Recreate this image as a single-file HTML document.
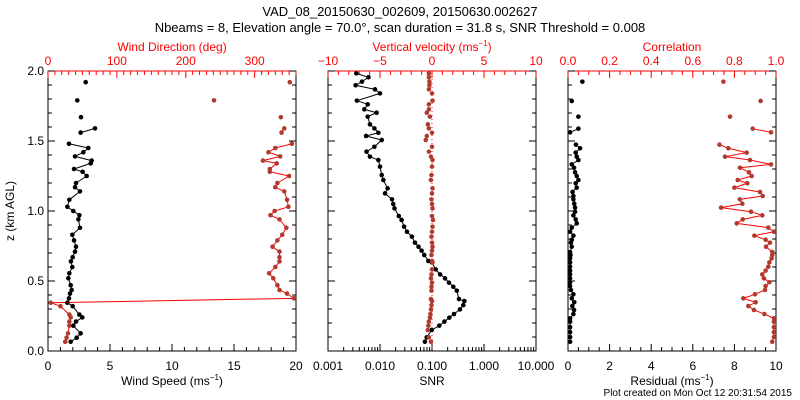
<!DOCTYPE html>
<html><head><meta charset="utf-8"><style>
html,body{margin:0;padding:0;background:#fff;}
svg{display:block;font-family:"Liberation Sans",sans-serif;}
</style></head><body>
<svg id="c" width="800" height="400" viewBox="0 0 800 400">
<text x="400" y="16" text-anchor="middle" font-size="13">VAD_08_20150630_002609, 20150630.002627</text>
<text x="400" y="32" text-anchor="middle" font-size="13">Nbeams = 8, Elevation angle = 70.0°, scan duration = 31.8 s, SNR Threshold = 0.008</text>
<text x="0" y="0" transform="translate(14,211) rotate(-90)" text-anchor="middle" font-size="12">z (km AGL)</text>
<text x="792" y="396" text-anchor="end" font-size="10">Plot created on Mon Oct 12 20:31:54 2015</text>
<g id="g"></g>
</svg>
<script>
// Panel 1 data
const h1 = [0.066,0.095,0.126,0.181,0.21,0.24,0.26,0.32,0.345,0.376,0.41,0.436,0.47,0.52,0.555,0.6,0.64,0.67,0.71,0.745,0.79,0.83,0.88,0.94,0.97,1.0,1.03,1.08,1.14,1.17,1.2,1.25,1.28,1.3,1.34,1.36,1.39,1.42,1.45,1.48,1.56,1.59,1.67,1.79,1.92];
const windSpeed = [1.83,2.31,2.63,2.04,2.26,2.77,2.53,1.99,1.56,1.69,1.77,1.91,1.83,1.64,1.72,1.96,1.85,1.99,2.18,2.26,2.1,1.96,2.58,2.45,2.53,2.04,1.56,1.72,2.58,2.18,2.26,3.12,2.79,2.1,3.44,3.52,2.18,2.85,3.25,1.69,2.63,3.79,2.66,2.36,3.04];
const windDir = [25,27,29,31,31,33,31,18,4,357,347,336,333,327,321,330,336,336,336,326,333,340,346,336,323,329,349,347,343,330,333,350,322,322,332,312,337,320,330,354,339,343,338,241,351];
// Panel 2 data
const h2 = [0.066,0.097,0.15,0.181,0.21,0.238,0.264,0.297,0.328,0.357,0.371,0.431,0.459,0.488,0.519,0.547,0.583,0.633,0.643,0.686,0.717,0.745,0.774,0.817,0.852,0.888,0.936,0.964,1.019,1.05,1.083,1.126,1.162,1.221,1.257,1.317,1.364,1.388,1.424,1.459,1.507,1.536,1.559,1.59,1.619,1.674,1.702,1.726,1.762,1.788,1.84,1.869,1.898,1.924,1.955,1.983];
const snr = [0.073,0.079,0.099,0.138,0.173,0.215,0.265,0.345,0.40,0.42,0.33,0.30,0.257,0.212,0.178,0.143,0.118,0.099,0.085,0.071,0.063,0.055,0.047,0.041,0.033,0.029,0.026,0.023,0.019,0.018,0.017,0.0125,0.014,0.0116,0.0108,0.010,0.0093,0.0064,0.0055,0.0078,0.0108,0.0054,0.0093,0.0078,0.0064,0.0058,0.0086,0.005,0.0058,0.0036,0.010,0.008,0.0034,0.0045,0.006,0.0035];
const vvel = [-0.1,-0.3,-0.4,-0.35,-0.3,-0.2,-0.15,-0.1,-0.05,0,-0.1,-0.05,-0.05,0,-0.1,-0.05,0,0.05,0,-0.05,0,0.05,0,-0.05,0,0.05,0.1,0,0.05,0,-0.05,0,0.05,-0.1,-0.05,0,0.05,-0.1,-0.3,0,-0.6,-0.5,0,-0.3,-0.4,-0.2,-0.5,-0.3,-0.3,0.05,0,-0.3,-0.25,-0.25,-0.3,-0.3];
// Panel 3 data
const h3 = [0.066,0.1,0.135,0.17,0.21,0.233,0.264,0.293,0.321,0.348,0.376,0.405,0.436,0.464,0.491,0.519,0.547,0.574,0.602,0.633,0.662,0.686,0.707,0.745,0.774,0.795,0.824,0.852,0.881,0.912,0.94,0.969,0.995,1.024,1.052,1.083,1.107,1.136,1.167,1.198,1.221,1.25,1.276,1.309,1.333,1.364,1.388,1.417,1.448,1.474,1.562,1.588,1.674,1.786,1.924];
const corr = [0.982,0.99,0.99,0.99,0.99,0.99,0.944,0.894,0.867,0.902,0.843,0.899,0.947,0.95,0.968,0.942,0.934,0.95,0.963,0.968,0.979,0.982,0.982,0.952,0.971,0.95,0.896,0.99,0.963,0.811,0.84,0.934,0.88,0.736,0.838,0.826,0.936,0.923,0.80,0.862,0.816,0.883,0.87,0.827,0.976,0.875,0.755,0.859,0.771,0.728,0.976,0.888,0.779,0.926,0.747];
const resid = [0.1,0.1,0.1,0.1,0.1,0.1,0.26,0.29,0.21,0.3,0.18,0.26,0.14,0.1,0.1,0.1,0.1,0.1,0.1,0.1,0.1,0.12,0.1,0.18,0.14,0.18,0.26,0.1,0.18,0.42,0.37,0.26,0.34,0.34,0.3,0.26,0.26,0.22,0.42,0.37,0.5,0.42,0.34,0.29,0.18,0.5,0.42,0.37,0.58,0.38,0.1,0.5,0.5,0.18,0.69];

const NS='http://www.w3.org/2000/svg';
const G=document.getElementById('g');
const Y0=351, Y1=71, RED='#ff0000', DOT='#b03a2e';
function yS(h){return Y0+(Y1-Y0)*h/2;}
function mk(tag,at,parent){const e=document.createElementNS(NS,tag);for(const k in at)e.setAttribute(k,at[k]);(parent||G).appendChild(e);return e;}
function txt(x,y,s,col,anchor,size){const t=mk('text',{x:x,y:y,fill:col,'text-anchor':anchor||'middle','font-size':size||12});t.textContent=s;return t;}

function panel(name,L,R,yLabels){
  const g=mk('g',{});
  
  
  const f=mk('rect',{x:L,y:Y1,width:R-L,height:Y0-Y1,fill:'none',stroke:'#000','stroke-width':1},g);
  
  
  const tl=mk('line',{x1:L,y1:Y1,x2:R,y2:Y1,stroke:RED},g);
  
  
  for(let v=0;v<=2.0001;v+=0.1){
    const y=yS(v), major=Math.abs(v*2-Math.round(v*2))<1e-6, len=major?7:4;
    mk('line',{x1:L,y1:y,x2:L+len,y2:y,stroke:'#000'},g);
    mk('line',{x1:R,y1:y,x2:R-len,y2:y,stroke:'#000'},g);
    if(major&&yLabels){const t=txt(L-4,y+4,v.toFixed(1),'#000','end');
      
      }
  }
  return g;
}
function xticks(g,L,R,min,max,major,minor,color,top,fmt,isLog){
  const sc=v=>isLog?L+(R-L)*(Math.log10(v)-Math.log10(min))/(Math.log10(max)-Math.log10(min)):L+(R-L)*(v-min)/(max-min);
  const yb=top?Y1:Y0, dir=top?1:-1;
  if(isLog){
    for(let d=Math.log10(min);d<Math.log10(max)+1e-9;d++){
      for(let m=1;m<=9;m++){const v=m*Math.pow(10,d); if(v>max*1.0001)break;
        const x=sc(v); mk('line',{x1:x,y1:yb,x2:x,y2:yb+dir*(m==1?7:4),stroke:color},g);
        if(m==1){const t=txt(x,top?yb-6:yb+19,v.toFixed(3),color);
          
          }
      }
    }
  } else {
    const n=Math.round((max-min)/minor);
    for(let i=0;i<=n;i++){const v=min+i*minor,x=sc(v);
      const isM=Math.abs((v-min)/major-Math.round((v-min)/major))<1e-6;
      mk('line',{x1:x,y1:yb,x2:x,y2:yb+dir*(isM?7:4),stroke:color},g);
      if(isM){const t=txt(x,top?yb-6:yb+19,fmt(v),color);
        
        }
    }
  }
  return sc;
}
function series(g,hs,vals,sc,ptColor,lineColor,name,gap){
  const s=mk('g',{},g);
  
  
  for(let i=1;i<hs.length;i++){
    if(hs[i]-hs[i-1]>gap)continue;
    mk('line',{x1:sc(vals[i-1]),y1:yS(hs[i-1]),x2:sc(vals[i]),y2:yS(hs[i]),stroke:lineColor,'stroke-width':1},s);
  }
  for(let i=0;i<hs.length;i++){
    const c=mk('circle',{cx:sc(vals[i]),cy:yS(hs[i]),r:2.3,fill:ptColor},s);
    
    
  }
}
function title(x,y,s,color,name){const t=txt(x,y,'','#000');t.setAttribute('fill',color);
  t.innerHTML=s;
  
  }

// Panel 1
let g1=panel('wind-panel',48,296,true);
let sWs=xticks(g1,48,296,0,20,5,1,'#000',false,v=>v.toFixed(0));
let sWd=xticks(g1,48,296,0,360,100,10,RED,true,v=>v.toFixed(0));
series(g1,h1,windDir,sWd,DOT,RED,'wind-direction-series',0.07);
series(g1,h1,windSpeed,sWs,'#000','#000','wind-speed-series',0.07);
title(172,385,'Wind Speed (ms<tspan dy="-5" font-size="8">−1</tspan><tspan dy="5">)</tspan>','#000','x-axis-title-wind-speed');
title(172,51,'Wind Direction (deg)',RED,'top-axis-title-wind-direction');

// Panel 2
let g2=panel('snr-panel',328,536,false);
let sSnr=xticks(g2,328,536,0.001,10,0,0,'#000',false,null,true);
let sVv=xticks(g2,328,536,-10,10,5,1,RED,true,v=>v.toFixed(0).replace('-','−'));
const zl=mk('line',{x1:sVv(0),y1:Y1,x2:sVv(0),y2:Y0,stroke:RED,'stroke-dasharray':'1,3'},g2);


series(g2,h2,snr,sSnr,'#000','#000','snr-series',0.07);
series(g2,h2,vvel,sVv,DOT,'none','vertical-velocity-series',0.07);
title(432,385,'SNR','#000','x-axis-title-snr');
title(432,51,'Vertical velocity (ms<tspan dy="-5" font-size="8">−1</tspan><tspan dy="5">)</tspan>',RED,'top-axis-title-vertical-velocity');

// Panel 3
let g3=panel('residual-panel',568,776,false);
let sRes=xticks(g3,568,776,0,10,2,0.5,'#000',false,v=>v.toFixed(0));
let sCor=xticks(g3,568,776,0,1,0.2,0.05,RED,true,v=>v.toFixed(1));
series(g3,h3,corr,sCor,DOT,RED,'correlation-series',0.07);
series(g3,h3,resid,sRes,'#000','#000','residual-series',0.07);
title(672,385,'Residual (ms<tspan dy="-5" font-size="8">−1</tspan><tspan dy="5">)</tspan>','#000','x-axis-title-residual');
title(672,51,'Correlation',RED,'top-axis-title-correlation');
</script>
</body></html>
